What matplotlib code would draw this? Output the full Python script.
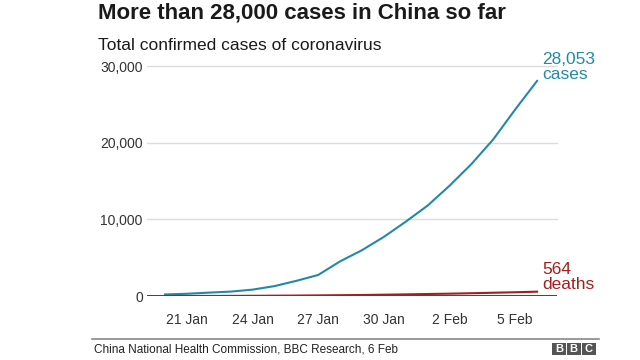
import datetime as dt
import matplotlib
matplotlib.use('Agg')
import matplotlib.pyplot as plt
import matplotlib.dates as mdates
from matplotlib.patches import Rectangle
from matplotlib.lines import Line2D

plt.rcParams['font.family'] = ['Liberation Sans', 'DejaVu Sans']

# data (report dates)
start = dt.date(2020, 1, 20)
dates = [start + dt.timedelta(days=i) for i in range(18)]
cases = [201, 291, 440, 571, 830, 1287, 1975, 2744, 4515, 5974, 7711, 9692,
         11791, 14380, 17205, 20438, 24324, 28053]
deaths = [3, 6, 9, 17, 25, 41, 56, 80, 106, 132, 170, 213, 259, 304, 361, 425,
          490, 564]
tick_dates = [dt.date(2020, 1, 21), dt.date(2020, 1, 24), dt.date(2020, 1, 27),
              dt.date(2020, 1, 30), dt.date(2020, 2, 2), dt.date(2020, 2, 5)]
tick_labels = ['21 Jan', '24 Jan', '27 Jan', '30 Jan', '2 Feb', '5 Feb']
yticks = [0, 10000, 20000, 30000]

teal = '#2389a7'
red = '#a31e1e'

W, H = 640, 360
fig = plt.figure(figsize=(6.4, 3.6), dpi=100)
fig.patch.set_facecolor('white')

ax = fig.add_axes([147 / W, 1 - 296 / H, (557 - 147) / W, (296 - 66) / H])
ax.set_ylim(0, 30000)
ax.set_xlim(mdates.date2num(dates[0]) - 0.82, mdates.date2num(dates[-1]) + 0.91)

for y in yticks[1:]:
    ax.axhline(y, color='#dcdcdc', lw=1, zorder=1, clip_on=False)
ax.axhline(0, color='#333333', lw=2, zorder=2)

ax.plot(dates, cases, color=teal, lw=1.5, zorder=3)
ax.plot(dates, deaths, color=red, lw=1.5, zorder=3)

for s in ax.spines.values():
    s.set_visible(False)
ax.set_yticks(yticks)
ax.set_yticklabels([f'{v:,}' for v in yticks])
ax.set_xticks(tick_dates)
ax.set_xticklabels(tick_labels)
ax.tick_params(axis='y', length=0, pad=3, labelsize=10, labelcolor='#333333')
ax.tick_params(axis='x', length=0, pad=12, labelsize=10, labelcolor='#333333')

ax.annotate(f'{cases[-1]:,}\ncases', (dates[-1], cases[-1]), xytext=(5, 14),
            textcoords='offset pixels', va='center', ha='left', color=teal,
            fontsize=12.5, linespacing=1.0, annotation_clip=False)
ax.annotate(f'{deaths[-1]}\ndeaths', (dates[-1], deaths[-1]), xytext=(5, 15),
            textcoords='offset pixels', va='center', ha='left', color=red,
            fontsize=12.5, linespacing=1.0, annotation_clip=False)

fig.text(98 / W, 1 - 13 / H, 'More than 28,000 cases in China so far',
         fontsize=16, fontweight='bold', color='#1a1a1a', va='center')
fig.text(98 / W, 1 - 46 / H, 'Total confirmed cases of coronavirus',
         fontsize=12.5, color='#1a1a1a', va='center')

fig.add_artist(Line2D([92 / W, 599 / W], [1 - 339 / H, 1 - 339 / H],
                      color='#888888', lw=1.2, transform=fig.transFigure))
fig.text(94 / W, 1 - 350 / H, 'China National Health Commission, BBC Research, 6 Feb',
         fontsize=8.5, color='#222222', va='center')

for i, letter in enumerate('BBC'):
    x0 = 552 + i * 15
    fig.add_artist(Rectangle((x0 / W, 1 - 355 / H), 13.5 / W, 12.5 / H,
                             transform=fig.transFigure, color='#555555', lw=0))
    fig.text((x0 + 6.75) / W, 1 - 348.7 / H, letter, fontsize=8, fontweight='bold',
             color='white', ha='center', va='center')

fig.savefig('out.png', dpi=100)
